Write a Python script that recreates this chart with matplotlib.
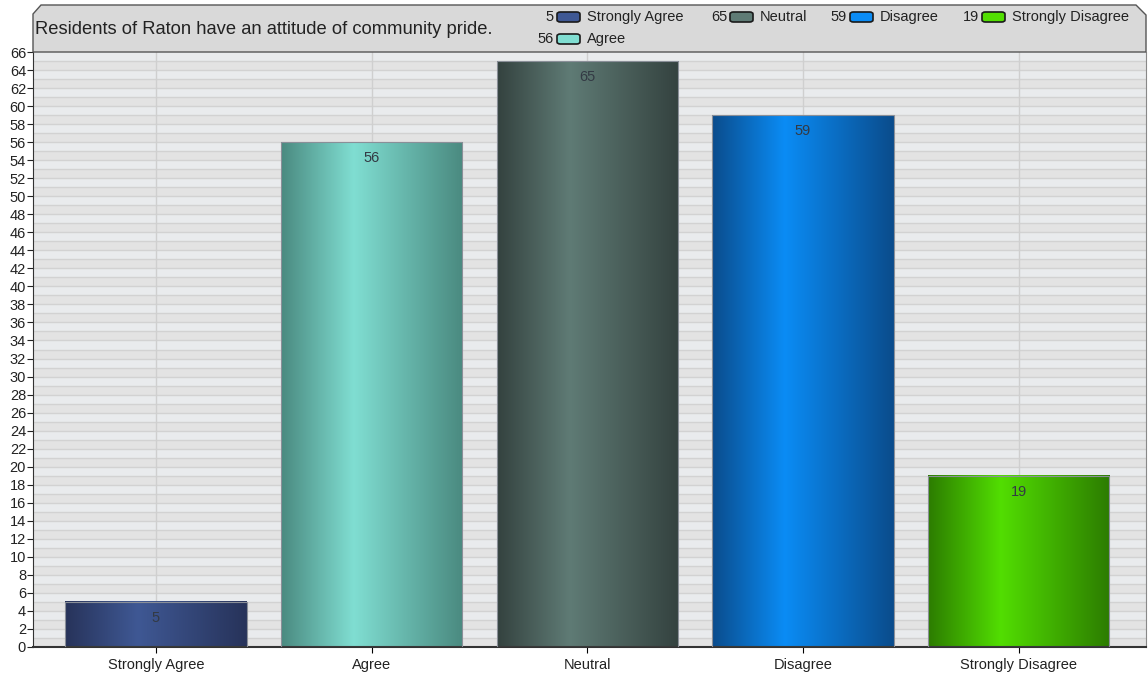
import numpy as np
import matplotlib.pyplot as plt
from matplotlib.colors import LinearSegmentedColormap
from matplotlib.patches import Polygon, FancyBboxPatch

plt.rcParams['font.family'] = ['Liberation Sans', 'DejaVu Sans']

# chart data
categories = ["Strongly Agree", "Agree", "Neutral", "Disagree", "Strongly Disagree"]
values = [5, 56, 65, 59, 19]
title = "Residents of Raton have an attitude of community pride."

# bar colours: (edge shade, centre highlight)
shades = [("#27335a", "#3f5894"),
          ("#4a8a80", "#80ded2"),
          ("#34423f", "#5f7b75"),
          ("#0a4c8c", "#0b8cf5"),
          ("#2c7c00", "#52de02")]

fig = plt.figure(figsize=(11.48, 6.77), dpi=100)
W, H = 1148, 677
ax = fig.add_axes([33 / W, 30 / H, (1146 - 33) / W, (647 - 52) / H])

ymax = 66
ax.set_xlim(-0.57, 4.59)
ax.set_ylim(0, ymax)

# striped background with a line at every unit
for k in range(ymax):
    ax.axhspan(k, k + 1, color="#e3e3e3" if k % 2 == 0 else "#e9ebed", zorder=0, lw=0)
for k in range(1, ymax):
    ax.axhline(k, color="#d2d2d2", lw=1, zorder=0.5)
for i in range(len(categories)):
    ax.axvline(i, color="#cfcfcf", lw=1, zorder=0.5)

# gradient bars
bw = 0.84
grad = np.linspace(0, 1, 256)
for i, (v, (dark, light)) in enumerate(zip(values, shades)):
    cmap = LinearSegmentedColormap.from_list("b%d" % i, [(0, dark), (0.4, light), (1, dark)])
    ax.imshow(grad[None, :], cmap=cmap, aspect="auto",
              extent=(i - bw / 2, i + bw / 2, 0, v), zorder=2, interpolation="bilinear")
    ax.add_patch(plt.Rectangle((i - bw / 2, 0), bw, v, fill=False,
                               ec="#8a8f98", lw=0.8, zorder=3))
    ax.text(i, v - 1.8, str(v), ha="center", va="center", fontsize=10.5,
            color="#333a44", zorder=4)

ax.set_xticks(range(len(categories)))
ax.set_xticklabels(categories, fontsize=10.5, color="#222222")
ax.set_yticks(range(0, ymax + 1, 2))
ax.tick_params(axis="y", labelsize=10.5, length=4, pad=1, colors="#222222")
ax.tick_params(axis="x", length=4, pad=4)
ax.spines["top"].set_visible(False)
ax.spines["right"].set_color("#888888")
ax.spines["left"].set_color("#333333")
ax.spines["bottom"].set_color("#333333")
ax.spines["bottom"].set_linewidth(1.5)

# header panel with chamfered corners
fx = lambda x: x / W
fy = lambda y: 1 - y / H
panel = Polygon([(fx(33), fy(52)), (fx(33), fy(14)), (fx(41), fy(5)),
                 (fx(1136), fy(5)), (fx(1146), fy(15)), (fx(1146), fy(52))],
                closed=True, transform=fig.transFigure, fc="#d9d9d9",
                ec="#555555", lw=1, zorder=0)
fig.patches.append(panel)
fig.text(fx(35), fy(30), title, fontsize=13.2, color="#222222", va="center", ha="left")

# legend entries (value, swatch, label)
legend_pos = [(0, 584, 17), (2, 757, 17), (3, 877, 17), (4, 1009, 17), (1, 584, 39)]
for idx, x, y in legend_pos:
    dark, light = shades[idx]
    fig.text(fx(x - 30), fy(y), str(values[idx]), fontsize=10.5, color="#222222",
             ha="right", va="center")
    sw = FancyBboxPatch((fx(x - 27), fy(y + 5)), 23 / W, 10 / H,
                        boxstyle="round,pad=0,rounding_size=0.003",
                        transform=fig.transFigure, fc=light, ec="#1a1a1a", lw=1.2)
    fig.patches.append(sw)
    fig.text(fx(x + 3), fy(y), categories[idx], fontsize=10.5, color="#222222",
             ha="left", va="center")

fig.savefig("out.png", dpi=100)
